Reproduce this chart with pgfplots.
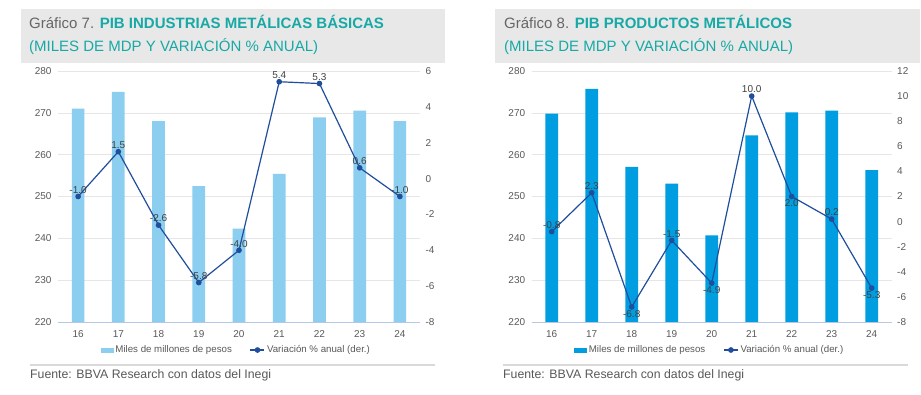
\documentclass[border=0pt]{standalone}
\usepackage{pgfplots}
\pgfplotsset{compat=1.18}
\usepackage{fontspec}
\setmainfont{Liberation Sans}
\definecolor{barA}{HTML}{8CCEF0}
\definecolor{barB}{HTML}{009EE0}
\definecolor{lineC}{HTML}{1F4E9C}
\definecolor{teal}{HTML}{17A9A5}
\definecolor{titgray}{HTML}{666666}
\definecolor{tickc}{HTML}{595959}
\definecolor{labc}{HTML}{404040}
\definecolor{gridc}{HTML}{E6E6E6}
\definecolor{axisc}{HTML}{B4C7E7}
\definecolor{bandc}{HTML}{E8E8E8}
\definecolor{sepc}{HTML}{D9D9D9}

\pgfplotsset{
  common/.style={
    anchor=south west, scale only axis, width=360pt, height=251pt,
    xmin=-0.5, xmax=8.5,
    tick style={draw=none},
    ticklabel style={font=\fontsize{10}{12}\selectfont, text=tickc},
    /pgf/number format/assume math mode=true,
  },
  baraxis/.style={
    common,
    ymin=220, ymax=280, ytick={220,230,...,280},
    xtick={0,...,8}, xticklabels={16,17,18,19,20,21,22,23,24},
    axis y line*=left, axis x line*=bottom,
    y axis line style={draw=none},
    x axis line style={color=axisc, line width=0.9pt},
    yticklabel style={xshift=-3pt},
    xticklabel style={yshift=-1pt},
    ymajorgrids, grid style={color=gridc, line width=0.6pt},
    ybar, bar width=12.7pt,
  },
  lineaxis/.style={
    common,
    axis y line*=right, axis x line=none,
    y axis line style={draw=none},
    yticklabel style={xshift=2pt},
    clip=false,
    legend columns=2,
    legend style={draw=none, fill=none, inner sep=0pt,
      font=\fontsize{9.7}{11}\selectfont, text=tickc,
      /tikz/every even column/.append style={column sep=16pt}},
  },
  lineplot/.style={
    lineC, line width=1.2pt, mark=*, mark size=2.2pt,
    mark options={fill=lineC, draw=lineC},
    point meta=explicit,
    nodes near coords={\pgfmathprintnumber[fixed,fixed zerofill,precision=1]{\pgfplotspointmeta}},
    visualization depends on={value \thisrow{a}\as\myanchor},
    every node near coord/.append style={anchor=\myanchor, font=\fontsize{10}{12}\selectfont, text=labc, inner sep=2.5pt},
  },
}

\begin{document}
\begin{tikzpicture}[x=1pt,y=1pt]
\path[use as bounding box, fill=white] (0,0) rectangle (921,395);

% ---------- Left chart ----------
\fill[bandc] (21,332) rectangle (445,386);
\node[anchor=base west, inner sep=0pt, font=\fontsize{15}{18}\selectfont] at (29,366.7)
  {\textcolor{titgray}{Gráfico 7.} \textcolor{teal}{\bfseries PIB INDUSTRIAS METÁLICAS BÁSICAS}};
\node[anchor=base west, inner sep=0pt, font=\fontsize{15}{18}\selectfont, text=teal] at (29,343.3)
  {(MILES DE MDP Y VARIACIÓN \% ANUAL)};

\begin{axis}[baraxis, at={(58pt,73pt)}, width=362pt]
\addplot[fill=barA, draw=none] coordinates {
(0,271.0) (1,275.0) (2,268.0) (3,252.5) (4,242.3) (5,255.4) (6,268.9) (7,270.5) (8,268.0)};
\end{axis}

\begin{axis}[lineaxis, at={(58pt,73pt)}, width=362pt,
  ymin=-8, ymax=6, ytick={-8,-6,...,6},
  legend style={at={(0.493,-0.1116)}, anchor=center}]
\addlegendimage{legend image code/.code={\fill[barA] (0pt,-2pt) rectangle (12pt,2pt);}}
\addlegendentry{Miles de millones de pesos}
\addplot[lineplot, legend image code/.code={\draw[lineC, line width=1.2pt] (0pt,0pt) -- (14pt,0pt); \fill[lineC] (7pt,0pt) circle (2.2pt);}]
 table[x=x, y=y, meta=y] {
x y a
0 -1.0 south
1 1.5 south
2 -2.6 south
3 -5.8 south
4 -4.0 south
5 5.4 south
6 5.3 south
7 0.6 south
8 -1.0 south
};
\addlegendentry{Variación \% anual (der.)}
\end{axis}

\draw[sepc, line width=1.5pt] (30,30) -- (435,30);
\node[anchor=base west, inner sep=0pt, font=\fontsize{12.3}{14}\selectfont, text=tickc] at (30,16.7)
  {Fuente: BBVA Research con datos del Inegi};

% ---------- Right chart ----------
\fill[bandc] (495,332) rectangle (920,386);
\node[anchor=base west, inner sep=0pt, font=\fontsize{15}{18}\selectfont] at (504,366.7)
  {\textcolor{titgray}{Gráfico 8.} \textcolor{teal}{\bfseries PIB PRODUCTOS METÁLICOS}};
\node[anchor=base west, inner sep=0pt, font=\fontsize{15}{18}\selectfont, text=teal] at (504,343.3)
  {(MILES DE MDP Y VARIACIÓN \% ANUAL)};

\begin{axis}[baraxis, at={(531.7pt,73pt)}, width=360pt]
\addplot[fill=barB, draw=none] coordinates {
(0,269.8) (1,275.7) (2,257.1) (3,253.1) (4,240.7) (5,264.6) (6,270.1) (7,270.5) (8,256.3)};
\end{axis}

\begin{axis}[lineaxis, at={(531.7pt,73pt)}, width=360pt,
  ymin=-8, ymax=12, ytick={-8,-6,...,12},
  legend style={at={(0.495,-0.1116)}, anchor=center}]
\addlegendimage{legend image code/.code={\fill[barB] (0pt,-2pt) rectangle (12pt,2pt);}}
\addlegendentry{Miles de millones de pesos}
\addplot[lineplot, legend image code/.code={\draw[lineC, line width=1.2pt] (0pt,0pt) -- (14pt,0pt); \fill[lineC] (7pt,0pt) circle (2.2pt);}]
 table[x=x, y=y, meta=y] {
x y a
0 -0.8 south
1 2.3 south
2 -6.8 north
3 -1.5 south
4 -4.9 north
5 10.0 south
6 2.0 north
7 0.2 south
8 -5.3 north
};
\addlegendentry{Variación \% anual (der.)}
\end{axis}

\draw[sepc, line width=1.5pt] (503,30) -- (908,30);
\node[anchor=base west, inner sep=0pt, font=\fontsize{12.3}{14}\selectfont, text=tickc] at (503,16.7)
  {Fuente: BBVA Research con datos del Inegi};

\end{tikzpicture}
\end{document}
